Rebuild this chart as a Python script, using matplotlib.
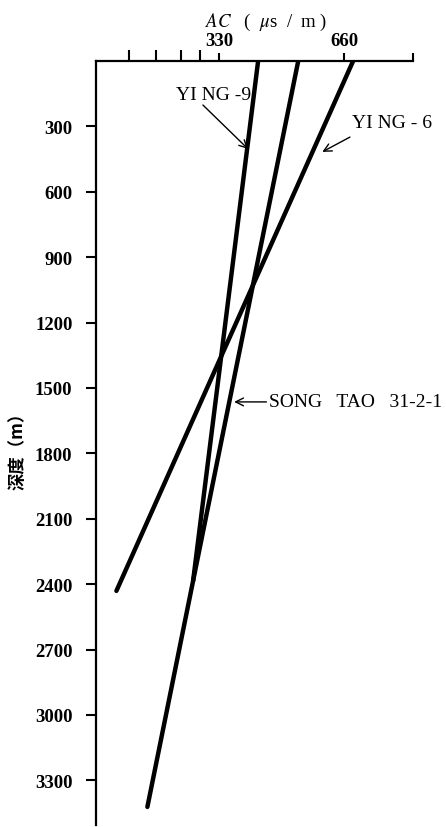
import matplotlib
matplotlib.use('Agg')
import matplotlib.pyplot as plt
from matplotlib.ticker import FixedLocator, NullFormatter

plt.rcParams['font.family'] = ['Liberation Serif', 'DejaVu Serif']
plt.rcParams['mathtext.fontset'] = 'stix'

# Compaction trends: acoustic transit time (us/m) against depth (m)
wells = ['YING-9', 'SONG TAO 31-2-1', 'YING-6']
ac_top = [410, 512, 694]
ac_bottom = [286, 222, 187]
depth_top = [0, 0, 0]
depth_bottom = [2385, 3422, 2431]

depth_ticks = [300, 600, 900, 1200, 1500, 1800, 2100, 2400, 2700, 3000, 3300]
ac_ticks = [330, 660]
ac_minor = [200, 233, 267, 297]

fig = plt.figure(figsize=(4.46, 8.28), dpi=100)
ax = fig.add_axes([96/446, 2/828, (413-96)/446, (826-62)/828])

for i in range(len(wells)):
    ax.plot([ac_top[i], ac_bottom[i]], [depth_top[i], depth_bottom[i]],
            color='black', lw=3.2, solid_capstyle='round')

ax.set_xscale('log')
ax.set_xlim(167, 967)
ax.set_ylim(3505, 0)

ax.xaxis.tick_top()
ax.xaxis.set_label_position('top')
ax.xaxis.set_major_locator(FixedLocator(ac_ticks + [967]))
ax.set_xticklabels([str(t) for t in ac_ticks] + [''])
ax.xaxis.set_minor_locator(FixedLocator(ac_minor))
ax.xaxis.set_minor_formatter(NullFormatter())
ax.tick_params(axis='x', which='major', length=6, width=1.5, pad=3, labelsize=13.5)
ax.tick_params(axis='x', which='minor', length=8, width=1.5)
for lab in ax.get_xticklabels():
    lab.set_fontweight('bold')

ax.set_yticks(depth_ticks)
ax.set_yticklabels([str(t) for t in depth_ticks], fontweight='bold')
ax.tick_params(axis='y', length=7, width=1.5, pad=10, labelsize=13.5)

for s in ['bottom', 'right']:
    ax.spines[s].set_visible(False)
for s in ['top', 'left']:
    ax.spines[s].set_linewidth(1.6)

ax.set_xlabel(r'$AC$   (  $\mu$s  /  m )', fontsize=13.5)
ax.xaxis.set_label_coords(0.536, 1.046)
ax.set_ylabel('深度（m）', family=['Noto Sans CJK SC', 'DejaVu Sans'],
              fontsize=12.5, fontweight='bold')
ax.yaxis.set_label_coords(-0.22, 0.496)

arrow = dict(arrowstyle='->', color='black', lw=1.0, shrinkA=0, shrinkB=0,
             mutation_scale=14)
ax.text(260, 174, 'YI NG -9', fontsize=14, ha='left', va='baseline')
ax.annotate('', xy=(388, 404), xytext=(302, 202), arrowprops=arrow)
ax.text(690, 303, 'YI NG - 6', fontsize=14, ha='left', va='baseline')
ax.annotate('', xy=(585, 417), xytext=(682, 349), arrowprops=arrow)
ax.annotate('SONG   TAO   31-2-1', xy=(359, 1564), xytext=(436, 1564), arrowprops=arrow,
            fontsize=14, ha='left', va='center')

fig.savefig('out.png', dpi=100)
